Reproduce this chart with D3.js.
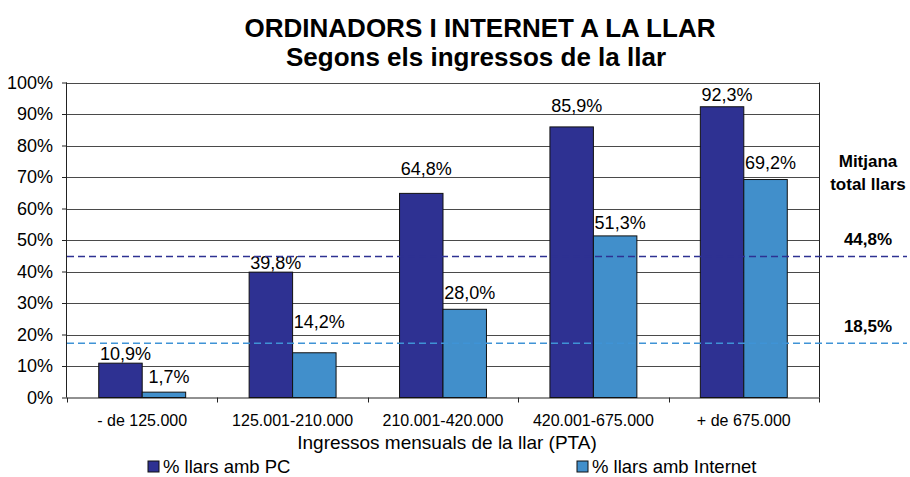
<!DOCTYPE html>
<html lang="ca">
<head>
<meta charset="utf-8">
<style>
  body { margin: 0; background: white; }
  svg { font-family: 'Liberation Sans', Arial, sans-serif; }
  .grid line { stroke: #4a4a4a; stroke-width: 1; }
  .bar { stroke: #111; stroke-width: 1; }
  text { fill: #000; }
</style>
</head>
<body>
<svg width="910" height="477"></svg>
<script src="https://d3js.org/d3.v7.min.js"></script>
<script>
// data
const categories = ["- de 125.000", "125.001-210.000", "210.001-420.000", "420.001-675.000", "+ de 675.000"];
const seriesNames = ["% llars amb PC", "% llars amb Internet"];
const pcValues = [10.9, 39.8, 64.8, 85.9, 92.3];
const internetValues = [1.7, 14.2, 28.0, 51.3, 69.2];
const averageLabels = ["44,8%", "18,5%"];
const averageLines = [44.8, 17.2];
const yTicks = [0, 10, 20, 30, 40, 50, 60, 70, 80, 90, 100];

const colors = ["#2E3192", "#418FCB"];
const lineColors = ["#2E3192", "#3F93D6"];
// vertical nudges of the value labels (as placed in the original)
const labelGap = [[3, 9], [3, 25], [18, 10], [15, 7], [6, 11]];

const svg = d3.select("svg");
const margin = { left: 67, right: 91, top: 82.5, bottom: 79.5 };
const width = 910, height = 477;

const x = d3.scaleBand().domain(categories).range([margin.left, width - margin.right]);
const xs = d3.scaleBand().domain([0, 1]).range([0, x.bandwidth()]).paddingOuter(0.73).paddingInner(0);
const y = d3.scaleLinear().domain([0, 100]).range([height - margin.bottom, margin.top]);

const fmt = v => d3.format(".1f")(v).replace(".", ",") + "%";

// title
const title = svg.append("g").attr("font-weight", "bold").attr("text-anchor", "middle").attr("font-size", 26);
title.append("text").attr("x", 480).attr("y", 37).text("ORDINADORS I INTERNET A LA LLAR");
title.append("text").attr("x", 476).attr("y", 66).text("Segons els ingressos de la llar");

// gridlines
svg.append("g").attr("class", "grid")
  .selectAll("line").data(yTicks.slice(1)).join("line")
  .attr("x1", margin.left).attr("x2", width - margin.right)
  .attr("y1", d => Math.round(y(d)) + 0.5).attr("y2", d => Math.round(y(d)) + 0.5);

// right border
svg.append("line")
  .attr("x1", width - margin.right + 0.5).attr("x2", width - margin.right + 0.5)
  .attr("y1", y(100)).attr("y2", y(0)).attr("stroke", "#222");

// y axis
const yAxis = svg.append("g")
  .attr("transform", `translate(${margin.left},0)`)
  .call(d3.axisLeft(y).tickValues(yTicks).tickSize(5).tickPadding(9).tickFormat(d => d + "%"));
yAxis.selectAll("text").attr("font-size", 18).attr("font-family", "'Liberation Sans', Arial, sans-serif");
yAxis.selectAll("line, path").attr("stroke", "#222");
yAxis.select(".domain").attr("d", `M-0.5,${y(100)}V${y(0)}`);

// x axis
const xAxis = svg.append("g")
  .attr("transform", `translate(0,${y(0)})`)
  .call(d3.axisBottom(x).tickSize(0).tickPadding(17));
xAxis.selectAll("text").attr("font-size", 16).attr("font-family", "'Liberation Sans', Arial, sans-serif");
xAxis.select(".domain").attr("stroke", "#222");
xAxis.append("g").selectAll("line")
  .data(d3.range(categories.length + 1)).join("line")
  .attr("x1", i => Math.round(margin.left + i * x.step()) + 0.5)
  .attr("x2", i => Math.round(margin.left + i * x.step()) + 0.5)
  .attr("y1", 0).attr("y2", 5).attr("stroke", "#222");

// bars
const series = [pcValues, internetValues];
const groups = svg.append("g").selectAll("g").data(categories).join("g")
  .attr("transform", d => `translate(${x(d)},0)`);

groups.selectAll("rect").data((d, i) => series.map((s, k) => ({ k, v: s[i], i }))).join("rect")
  .attr("class", "bar")
  .attr("x", d => xs(d.k))
  .attr("width", xs.bandwidth())
  .attr("y", d => y(d.v))
  .attr("height", d => y(0) - y(d.v))
  .attr("fill", d => colors[d.k]);

groups.selectAll("text").data((d, i) => series.map((s, k) => ({ k, v: s[i], i }))).join("text")
  .attr("x", d => xs(d.k) + xs.bandwidth() / 2 + 5)
  .attr("y", d => y(d.v) - labelGap[d.i][d.k])
  .attr("text-anchor", "middle")
  .attr("font-size", 18)
  .text(d => fmt(d.v));

// average lines
svg.append("g").selectAll("line").data(averageLines).join("line")
  .attr("x1", margin.left).attr("x2", 907)
  .attr("y1", d => y(d)).attr("y2", d => y(d))
  .attr("stroke", (d, i) => lineColors[i])
  .attr("stroke-width", 1.5)
  .attr("stroke-dasharray", "7,4");

const side = svg.append("g").attr("font-weight", "bold").attr("font-size", 17).attr("text-anchor", "middle");
side.append("text").attr("x", 868).attr("y", 167).text("Mitjana");
side.append("text").attr("x", 868).attr("y", 190).text("total llars");
side.selectAll("text.avg").data(averageLabels).join("text")
  .attr("class", "avg")
  .attr("x", 868)
  .attr("y", (d, i) => y(averageLines[i]) - 11)
  .text(d => d);

// axis title
svg.append("text")
  .attr("x", 447).attr("y", 449)
  .attr("text-anchor", "middle").attr("font-size", 19)
  .text("Ingressos mensuals de la llar (PTA)");

// legend
const legendX = [148, 577];
const legend = svg.append("g").selectAll("g").data(seriesNames).join("g")
  .attr("transform", (d, i) => `translate(${legendX[i]},461)`);
legend.append("rect").attr("width", 11).attr("height", 11)
  .attr("fill", (d, i) => colors[i]).attr("stroke", "#111");
legend.append("text").attr("x", 15).attr("y", 11.5).attr("font-size", 18.5).text(d => d);
</script>
</body>
</html>
